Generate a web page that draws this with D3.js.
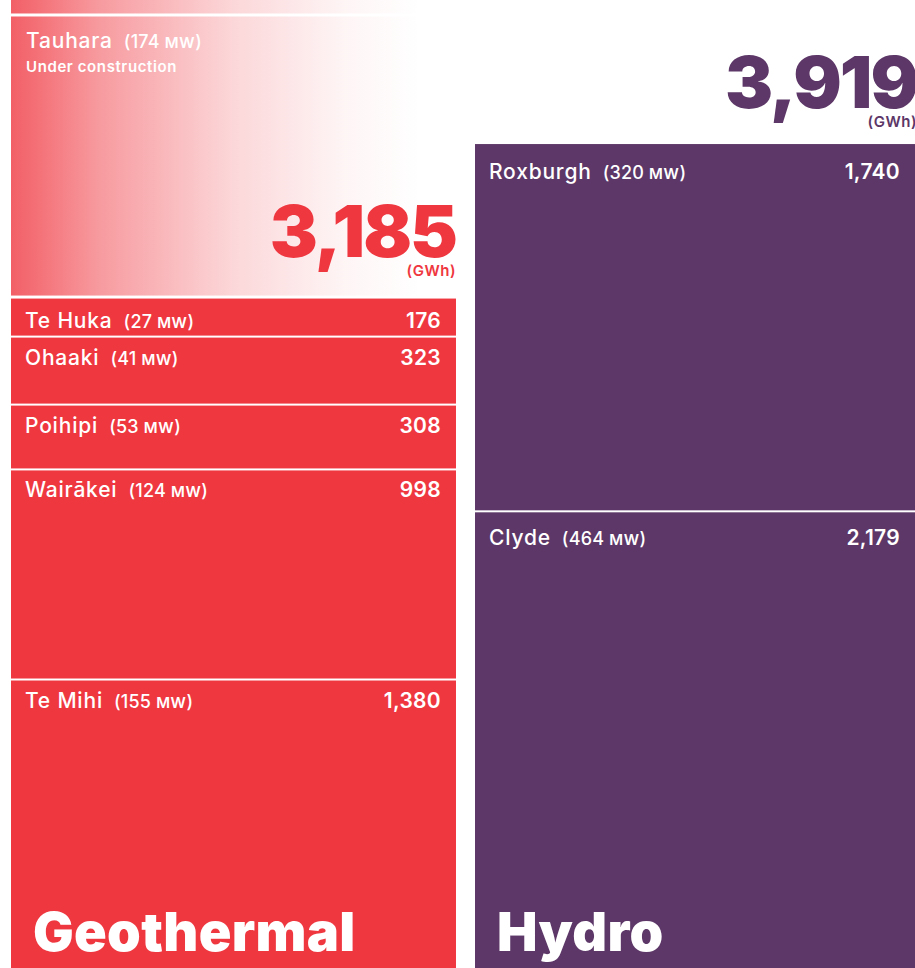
<!DOCTYPE html>
<html>
<head>
<meta charset="utf-8">
<script src="https://cdn.jsdelivr.net/npm/d3@7"></script>
<style>
  body { margin: 0; background: #fff; }
  svg { display: block; font-family: Inter, "Open Sans", sans-serif; }
</style>
</head>
<body>
<div id="chart"></div>
<script>
// generation types
const types = ["Geothermal", "Hydro"];
const colors = { Geothermal: "#ef3740", Hydro: "#5c3767" };

// stations, bottom to top
const geoNames = ["Te Mihi", "Wairākei", "Poihipi", "Ohaaki", "Te Huka"];
const geoMW = [155, 124, 53, 41, 27];
const geoGWh = [1380, 998, 308, 323, 176];

const hydroNames = ["Clyde", "Roxburgh"];
const hydroMW = [464, 320];
const hydroGWh = [2179, 1740];

// planned station stacked on top of geothermal (height)
const plannedNames = ["Tauhara", ""];
const plannedMW = [174, null];
const plannedGWh = [1340, 160];
const plannedNotes = ["Under construction", ""];

const W = 915, H = 968;
const fmt = d3.format(",");

const svg = d3.select("#chart").append("svg").attr("width", W).attr("height", H);

const x = d3.scaleBand().domain(types).range([11, 920]).paddingInner(0.041);
const y = d3.scaleLinear().domain([0, 4000]).range([969, 969 - 4000 * 0.2105]);

const defs = svg.append("defs");
const grad = defs.append("linearGradient").attr("id", "fade")
    .attr("x1", "0%").attr("x2", "100%").attr("y1", "0%").attr("y2", "0%");
grad.append("stop").attr("offset", "0%").attr("stop-color", colors.Geothermal).attr("stop-opacity", 0.8);
grad.append("stop").attr("offset", "20%").attr("stop-color", colors.Geothermal).attr("stop-opacity", 0.5);
grad.append("stop").attr("offset", "50%").attr("stop-color", colors.Geothermal).attr("stop-opacity", 0.2);
grad.append("stop").attr("offset", "75%").attr("stop-color", colors.Geothermal).attr("stop-opacity", 0.05);
grad.append("stop").attr("offset", "92%").attr("stop-color", colors.Geothermal).attr("stop-opacity", 0);

function stack(names, mw, gwh) {
  let cum = 0;
  return names.map((n, i) => {
    const d = { name: n, mw: mw[i], gwh: gwh[i], y0: cum, y1: cum + gwh[i] };
    cum += gwh[i];
    return d;
  });
}

const columns = [
  { type: "Geothermal", rows: stack(geoNames, geoMW, geoGWh), dy: 29, pad: 15 },
  { type: "Hydro", rows: stack(hydroNames, hydroMW, hydroGWh), dy: 35, pad: 20 }
];

function mwLabel(sel, size) {
  sel.append("tspan").attr("font-size", size).attr("font-weight", 500)
      .attr("letter-spacing", 0.8).text(d => d.name);
  sel.append("tspan").attr("dx", 11).attr("font-size", size - 3).attr("font-weight", 500)
      .attr("letter-spacing", 0.2).text(d => "(" + d.mw + " ");
  sel.append("tspan").attr("font-size", size - 6).attr("font-weight", 600)
      .attr("letter-spacing", 0.6).text("MW");
  sel.append("tspan").attr("font-size", size - 3).attr("font-weight", 500).text(")");
}

columns.forEach(col => {
  const g = svg.append("g").attr("class", "col");
  const bx = x(col.type), bw = x.bandwidth();
  const total = d3.sum(col.rows, d => d.gwh);

  const seg = g.selectAll("g.seg").data(col.rows).join("g").attr("class", "seg");
  seg.append("rect")
      .attr("x", bx)
      .attr("y", d => y(d.y1) + (d.y1 === total ? 0 : 2))
      .attr("width", bw)
      .attr("height", d => y(d.y0) - y(d.y1) - (d.y1 === total ? 0 : 2))
      .attr("fill", colors[col.type]);

  seg.append("text")
      .attr("x", bx + 14)
      .attr("y", d => y(d.y1) + col.dy)
      .attr("fill", "#fff")
      .call(mwLabel, 21);

  seg.append("text")
      .attr("x", bx + bw - col.pad)
      .attr("y", d => y(d.y1) + col.dy)
      .attr("text-anchor", "end")
      .attr("fill", "#fff")
      .attr("font-size", 21).attr("font-weight", 600)
      .attr("letter-spacing", 0.3)
      .text(d => fmt(d.gwh));

  // type name at bottom
  g.append("text")
      .attr("x", bx + 22)
      .attr("y", 951)
      .attr("fill", "#fff")
      .attr("font-size", 54).attr("font-weight", 900)
      .attr("letter-spacing", 0.3)
      .text(col.type);
});

// planned (fading) blocks above geothermal
const geoTotal = d3.sum(geoGWh);
let pcum = geoTotal;
const planned = plannedNames.map((n, i) => {
  const d = { name: n, mw: plannedMW[i], gwh: plannedGWh[i], note: plannedNotes[i], y0: pcum, y1: pcum + plannedGWh[i] };
  pcum += plannedGWh[i];
  return d;
});

const pg = svg.append("g").attr("class", "planned");
pg.selectAll("rect").data(planned).join("rect")
    .attr("x", x("Geothermal"))
    .attr("y", d => y(d.y1))
    .attr("width", x.bandwidth())
    .attr("height", d => y(d.y0) - y(d.y1) - 3)
    .attr("fill", "url(#fade)");

const tau = planned[0];
pg.append("text").datum(tau)
    .attr("x", x("Geothermal") + 15).attr("y", y(tau.y1) + 32).attr("fill", "#fff")
    .call(mwLabel, 21);
pg.append("text").attr("x", x("Geothermal") + 15).attr("y", y(tau.y1) + 56)
    .attr("fill", "#fff").attr("font-size", 15).attr("font-weight", 600)
    .attr("letter-spacing", 0.6).text(tau.note);

// totals
const totals = [
  { type: "Geothermal", value: geoTotal, base: y(geoTotal) - 42, right: x("Geothermal") + x.bandwidth() },
  { type: "Hydro", value: d3.sum(hydroGWh), base: y(d3.sum(hydroGWh)) - 36, right: 917 }
];
totals.forEach(t => {
  svg.append("text")
      .attr("x", t.right).attr("y", t.base)
      .attr("text-anchor", "end")
      .attr("fill", colors[t.type])
      .attr("font-size", 72).attr("font-weight", 900)
      .attr("letter-spacing", -2)
      .text(fmt(t.value));
  svg.append("text")
      .attr("x", t.right).attr("y", t.base + 19)
      .attr("text-anchor", "end")
      .attr("fill", colors[t.type])
      .attr("font-size", 15).attr("font-weight", 600)
      .attr("letter-spacing", 0.5)
      .text("(GWh)");
});
</script>
</body>
</html>
